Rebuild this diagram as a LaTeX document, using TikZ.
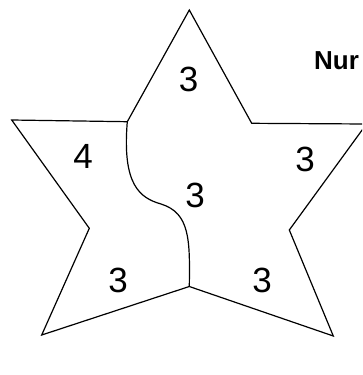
\documentclass[tikz,border=0pt]{standalone}
\usepackage{fontspec}
\setmainfont{Liberation Sans}
\usetikzlibrary{positioning}

\begin{document}
\begin{tikzpicture}[x=1pt,y=-1pt]
\tikzset{
  starline/.style={line width=1.2pt,line join=miter},
  regionlabel/.style={inner sep=0pt,font=\fontsize{35}{38}\selectfont},
  headlabel/.style={inner sep=0pt,anchor=west,font=\fontsize{26}{28}\selectfont\bfseries}
}
\useasboundingbox (0,0) rectangle (362,375);
\clip (0,0) rectangle (362,375);
% star corners
\coordinate (p_top) at (189.3,10.0);
\coordinate (p_ul) at (127.3,121.7);
\coordinate (p_left) at (11.7,120.0);
\coordinate (p_li) at (89.3,228.3);
\coordinate (p_bl) at (41.7,335.0);
\coordinate (p_bot) at (189.3,286.5);
\coordinate (p_br) at (333.3,336.0);
\coordinate (p_ri) at (289.3,230.0);
\coordinate (p_right) at (366.5,124.0);
\coordinate (p_ur) at (251.7,123.3);
\coordinate (p_mid) at (161.0,204.0);
\draw[starline] (p_top) -- (p_ul) -- (p_left) -- (p_li) -- (p_bl) -- (p_bot)
  -- (p_br) -- (p_ri) -- (p_right) -- (p_ur) -- cycle;
% dividing curve
\draw[starline] (p_ul) .. controls (122,185) and (140,198) .. (p_mid)
  .. controls (190,213) and (190,240) .. (p_bot);
% numbers
\node[regionlabel] (n_top) at (188.5,79.5) {3};
\node[regionlabel] (n_left) at (83.0,156.5) {4};
\node[regionlabel] (n_right) at (305.0,159.0) {3};
\node[regionlabel] (n_mid) at (195.0,195.0) {3};
\node[regionlabel] (n_bl) at (118.0,280.0) {3};
\node[regionlabel] (n_br) at (262.0,280.0) {3};
\node[headlabel] (n_head) at (314.0,60.5) {Nur};
\end{tikzpicture}
\end{document}
